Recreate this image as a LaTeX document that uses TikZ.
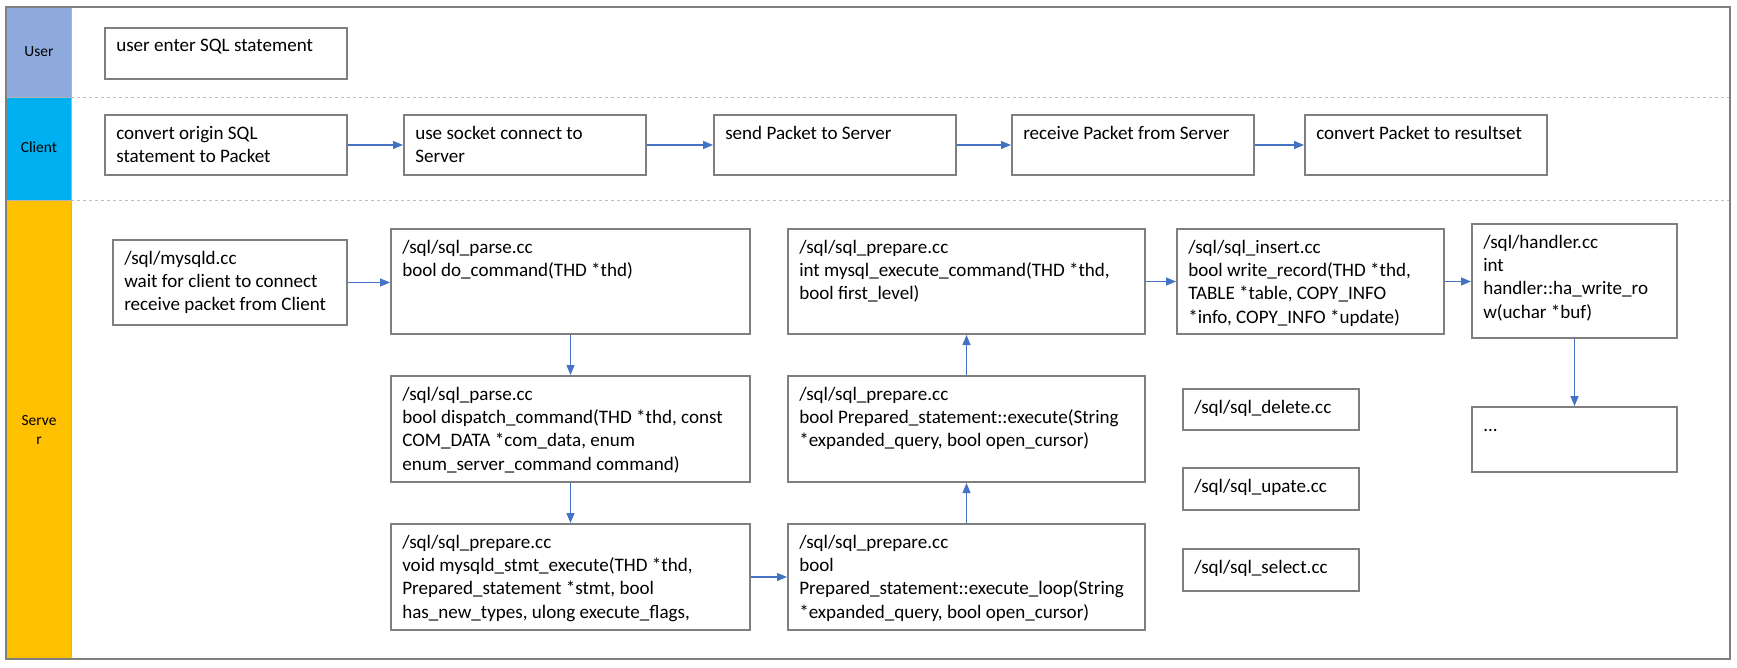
\documentclass[tikz,border=0pt]{standalone}
\usepackage{fontspec}
\setmainfont{Carlito}
\usetikzlibrary{arrows.meta,fit}
\definecolor{boxgray}{HTML}{7F7F7F}
\definecolor{arrowblue}{HTML}{4472C4}
\definecolor{laneuser}{HTML}{8EA9DB}
\definecolor{laneclient}{HTML}{00B0F0}
\definecolor{laneserver}{HTML}{FFC000}
\definecolor{dashgray}{HTML}{BFBFBF}
\newcommand\mylines[1]{\begin{tabular}[t]{@{}l@{}}#1\end{tabular}}
\newcommand\mkbox[6]{%
  \coordinate (#1-a) at (#2,#3);
  \coordinate (#1-b) at (#4,#5);
  \node[boxst, fit=(#1-a)(#1-b)] (#1) {};
  \node[txt] (#1-t) at (#2+11,#3+24) {\mylines{#6}};
}
\begin{document}
\begin{tikzpicture}[x={(0.75pt,0pt)},y={(0pt,-0.75pt)},
  boxst/.style={draw=boxgray, line width=1.5pt, inner sep=0pt},
  txt/.style={anchor=base west, inner sep=0pt, font=\fontsize{14.3pt}{17.5pt}\selectfont},
  flow/.style={draw=arrowblue, line width=0.9pt, -{Triangle[length=7.5pt,width=6pt]}},
  lanelbl/.style={font=\fontsize{11.6pt}{14pt}\selectfont, align=center, inner sep=0pt},
  lanebar/.style={draw=gray!60, line width=0.5pt},
  sep/.style={draw=dashgray, line width=0.75pt, dash pattern=on 2.5pt off 2pt}]
\useasboundingbox (0,0) rectangle (1737,667);
% lanes
\path[lanebar, fill=laneuser] (6,7) rectangle (71,97);
\path[lanebar, fill=laneclient] (6,97) rectangle (71,200);
\path[lanebar, fill=laneserver] (6,200) rectangle (71,659);
\node[lanelbl] (lu) at (39,52) {User};
\node[lanelbl] (lc) at (39,147) {Client};
\node[lanelbl] (ls) at (39,430) {Serve\\r};
\coordinate (d1a) at (71,97); \coordinate (d1b) at (1730,97);
\coordinate (d2a) at (71,200); \coordinate (d2b) at (1730,200);
\draw[sep] (d1a) -- (d1b);
\draw[sep] (d2a) -- (d2b);
\draw[draw=boxgray, line width=1.5pt] (6,7) rectangle (1730,659);
% user
\mkbox{u1}{105}{28}{347}{79}{user enter SQL statement}
% client
\mkbox{c1}{105}{115}{347}{175}{convert origin SQL\\statement to Packet}
\mkbox{c2}{404}{115}{646}{175}{use socket connect to\\Server}
\mkbox{c3}{714}{115}{956}{175}{send Packet to Server}
\mkbox{c4}{1012}{115}{1254}{175}{receive Packet from Server}
\mkbox{c5}{1305}{115}{1547}{175}{convert Packet to resultset}
% server
\mkbox{s1}{113}{240}{347}{325}{/sql/mysqld.cc\\wait for client to connect\\receive packet from Client}
\mkbox{s2}{391}{229}{750}{334}{/sql/sql\_parse.cc\\bool do\_command(THD *thd)}
\mkbox{s3}{391}{376}{750}{482}{/sql/sql\_parse.cc\\bool dispatch\_command(THD *thd, const\\COM\_DATA *com\_data, enum\\enum\_server\_command command)}
\mkbox{s4}{391}{524}{750}{630}{/sql/sql\_prepare.cc\\void mysqld\_stmt\_execute(THD *thd,\\Prepared\_statement *stmt, bool\\has\_new\_types, ulong execute\_flags,}
\mkbox{s5}{788}{229}{1145}{334}{/sql/sql\_prepare.cc\\int mysql\_execute\_command(THD *thd,\\bool first\_level)}
\mkbox{s6}{788}{376}{1145}{482}{/sql/sql\_prepare.cc\\bool Prepared\_statement::execute(String\\{}*expanded\_query, bool open\_cursor)}
\mkbox{s7}{788}{524}{1145}{630}{/sql/sql\_prepare.cc\\bool\\Prepared\_statement::execute\_loop(String\\{}*expanded\_query, bool open\_cursor)}
\mkbox{s8}{1177}{229}{1444}{334}{/sql/sql\_insert.cc\\bool write\_record(THD *thd,\\TABLE *table, COPY\_INFO\\{}*info, COPY\_INFO *update)}
\mkbox{s9}{1472}{224}{1677}{338}{/sql/handler.cc\\int\\handler::ha\_write\_ro\\w(uchar *buf)}
\mkbox{s10}{1472}{407}{1677}{472}{...}
\mkbox{s11}{1183}{389}{1359}{430}{/sql/sql\_delete.cc}
\mkbox{s12}{1183}{468}{1359}{510}{/sql/sql\_upate.cc}
\mkbox{s13}{1183}{549}{1359}{591}{/sql/sql\_select.cc}
% connectors
\draw[flow] (c1.east) -- (c2.west);
\draw[flow] (c2.east) -- (c3.west);
\draw[flow] (c3.east) -- (c4.west);
\draw[flow] (c4.east) -- (c5.west);
\draw[flow] (s1.east) -- (s1.east -| s2.west);
\draw[flow] (s2.south) -- (s3.north);
\draw[flow] (s3.south) -- (s4.north);
\draw[flow] (s4.east) -- (s7.west);
\draw[flow] (s7.north) -- (s6.south);
\draw[flow] (s6.north) -- (s5.south);
\draw[flow] (s5.east) -- (s5.east -| s8.west);
\draw[flow] (s8.east) -- (s8.east -| s9.west);
\draw[flow] (s9.south) -- (s10.north);
\end{tikzpicture}
\end{document}
